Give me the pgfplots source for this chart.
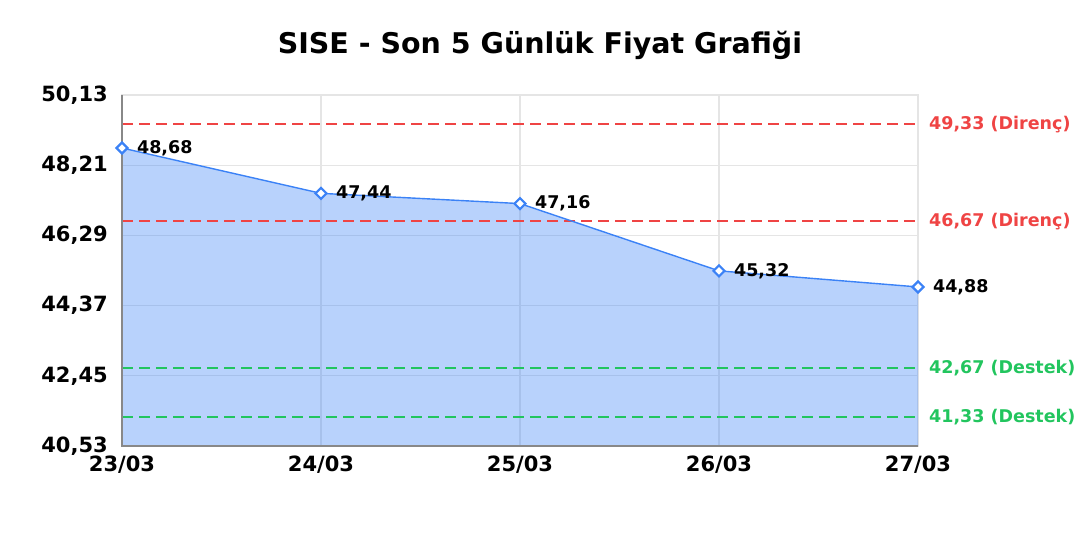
\documentclass[border=0pt]{standalone}
\usepackage{pgfplots}
\pgfplotsset{compat=1.18}
\usepackage{fontspec}
\setmainfont{DejaVu Sans}
\definecolor{lineblue}{HTML}{3B82F6}
\definecolor{resred}{HTML}{EF4444}
\definecolor{supgreen}{HTML}{22C55E}
\definecolor{gridgray}{HTML}{E5E5E5}
\definecolor{axisgray}{HTML}{888888}
\begin{document}
\begin{tikzpicture}[x=1bp,y=1bp]
\path[use as bounding box] (0,0) rectangle (1080,540);
\node[font=\bfseries\fontsize{28.5bp}{32bp}\selectfont] at (540,495) {SISE - Son 5 Günlük Fiyat Grafiği};
\begin{axis}[
  at={(122bp,94bp)}, anchor=south west,
  scale only axis, width=796bp, height=351bp,
  xmin=0, xmax=4, ymin=40.53, ymax=50.13,
  xtick={0,1,2,3,4},
  xticklabels={23/03,24/03,25/03,26/03,27/03},
  ytick={40.53,42.45,44.37,46.29,48.21,50.13},
  yticklabel={\pgfmathprintnumber[fixed,fixed zerofill,precision=2,use comma]{\tick}},
  /pgf/number format/assume math mode=true,
  major tick length=0pt,
  grid=major,
  grid style={draw=gridgray, line width=1.2bp},
  axis line style={draw=gridgray, line width=1.2bp},
  tick label style={font=\bfseries\fontsize{21bp}{24bp}\selectfont, text=black},
  yticklabel style={inner sep=0pt, xshift=-14bp},
  xticklabel style={inner sep=0pt, yshift=-10bp},
  clip=false,
  refline/.style={line width=2bp, dash pattern=on 11bp off 6bp, mark=none},
]
\addplot[draw=none, fill=lineblue, fill opacity=0.36, mark=none] coordinates {(0,48.68) (1,47.44) (2,47.16) (3,45.32) (4,44.88)} \closedcycle;
\addplot[refline, draw=resred] coordinates {(0,49.33) (4,49.33)};
\addplot[refline, draw=resred] coordinates {(0,46.67) (4,46.67)};
\addplot[refline, draw=supgreen] coordinates {(0,42.67) (4,42.67)};
\addplot[refline, draw=supgreen] coordinates {(0,41.33) (4,41.33)};
\draw[axisgray, line width=1.8bp] (axis cs:0,50.13) -- (axis cs:0,40.53) -- (axis cs:4,40.53);
\addplot[lineblue, line width=1.4bp, mark=square*, mark size=3.9bp,
  mark options={fill=white, draw=lineblue, line width=2.2bp, solid, rotate=45},
  nodes near coords={\pgfmathprintnumber[fixed,fixed zerofill,precision=2,use comma]{\pgfplotspointmeta}},
  /pgf/number format/assume math mode=true,
  every node near coord/.append style={anchor=west, inner sep=0pt, xshift=14bp, yshift=0bp, text=black, rotate=0, font=\bfseries\fontsize{17.5bp}{20bp}\selectfont}
] coordinates {(0,48.68) (1,47.44) (2,47.16) (3,45.32) (4,44.88)};
\node[anchor=west, inner sep=0pt, xshift=11bp, text=resred, font=\bfseries\fontsize{17.5bp}{20bp}\selectfont] at (axis cs:4,49.33) {49,33 (Direnç)};
\node[anchor=west, inner sep=0pt, xshift=11bp, text=resred, font=\bfseries\fontsize{17.5bp}{20bp}\selectfont] at (axis cs:4,46.67) {46,67 (Direnç)};
\node[anchor=west, inner sep=0pt, xshift=11bp, text=supgreen, font=\bfseries\fontsize{17.5bp}{20bp}\selectfont] at (axis cs:4,42.67) {42,67 (Destek)};
\node[anchor=west, inner sep=0pt, xshift=11bp, text=supgreen, font=\bfseries\fontsize{17.5bp}{20bp}\selectfont] at (axis cs:4,41.33) {41,33 (Destek)};
\end{axis}
\end{tikzpicture}
\end{document}
